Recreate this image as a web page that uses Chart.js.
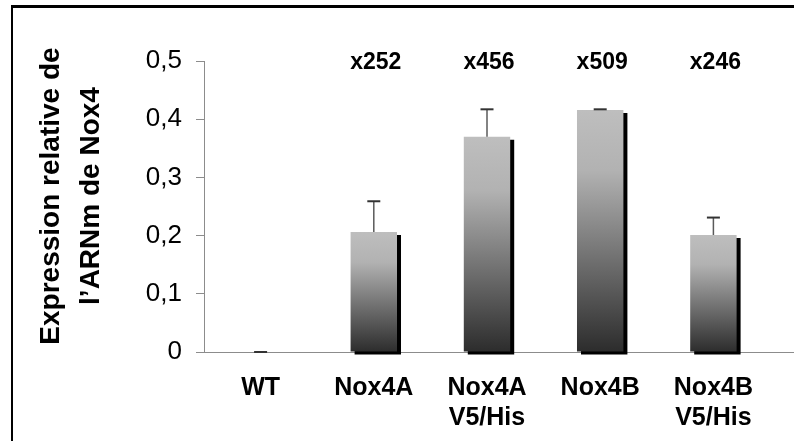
<!DOCTYPE html>
<html>
<head>
<meta charset="utf-8">
<script src="https://cdn.jsdelivr.net/npm/chart.js@4.4.0/dist/chart.umd.min.js"></script>
<style>
    html, body { margin: 0; padding: 0; background: #fff; overflow: hidden; }
    #wrap { position: relative; width: 794px; height: 441px; }
    #wrap canvas { position: absolute; left: 0; top: 0; }
    #frame {
        position: absolute; left: 11px; top: 5px; width: 820px; height: 480px;
        border-top: 3px solid #000; border-left: 2px solid #000; pointer-events: none;
    }
</style>
</head>
<body>
<div id="wrap">
    <canvas id="chart" width="794" height="441"></canvas>
    <div id="frame"></div>
</div>
<script>
// chart data
const categories = ['WT', 'Nox4A', ['Nox4A', 'V5/His'], 'Nox4B', ['Nox4B', 'V5/His']];
const expression = [0, 0.206, 0.370, 0.416, 0.201];
const errors = [0, 0.053, 0.047, 0.001, 0.030];
const foldLabels = ['', 'x252', 'x456', 'x509', 'x246'];
const yTicks = [0, 0.1, 0.2, 0.3, 0.4, 0.5];
const yTitle = ['Expression relative de', 'l\u2019ARNm de Nox4'];

const FONT = "'Liberation Sans', Arial, sans-serif";
const axisColor = '#8c8c8c';

// vertical grey gradient, light on top of each bar, dark at the base
function barGradient(ctx) {
    const chart = ctx.chart;
    if (!chart.chartArea) return '#888';
    const y = chart.scales.y;
    const top = y.getPixelForValue(ctx.raw || 0);
    const bottom = y.getPixelForValue(0);
    if (bottom - top < 1) return '#333';
    const g = chart.ctx.createLinearGradient(0, top, 0, bottom);
    g.addColorStop(0, '#bebebe');
    g.addColorStop(0.25, '#b2b2b2');
    g.addColorStop(1, '#2c2c2c');
    return g;
}

// black drop shadow behind the bars
const shadowPlugin = {
    id: 'barShadow',
    beforeDatasetsDraw(chart) {
        const c = chart.ctx;
        c.save();
        c.shadowColor = '#000';
        c.shadowOffsetX = 4;
        c.shadowOffsetY = 3;
        c.shadowBlur = 0;
    },
    afterDatasetsDraw(chart) {
        chart.ctx.restore();
    }
};

// error bars, fold labels, axis title and the axis line running off to the right
const extrasPlugin = {
    id: 'extras',
    afterDraw(chart) {
        const c = chart.ctx;
        const y = chart.scales.y;
        const area = chart.chartArea;
        const meta = chart.getDatasetMeta(0);
        c.save();

        c.strokeStyle = axisColor;
        c.lineWidth = 1;
        c.beginPath();
        c.moveTo(area.right, Math.round(area.bottom) + 0.5);
        c.lineTo(chart.width, Math.round(area.bottom) + 0.5);
        c.stroke();

        meta.data.forEach((bar, i) => {
            const y0 = y.getPixelForValue(expression[i]);
            const y1 = y.getPixelForValue(expression[i] + errors[i]);
            c.strokeStyle = '#5a5a5a';
            c.lineWidth = 1.5;
            c.beginPath();
            c.moveTo(bar.x, y0);
            c.lineTo(bar.x, y1);
            c.stroke();
            c.strokeStyle = '#333';
            c.lineWidth = 2;
            c.beginPath();
            c.moveTo(bar.x - 6.5, y1);
            c.lineTo(bar.x + 6.5, y1);
            c.stroke();

            if (foldLabels[i]) {
                c.fillStyle = '#000';
                c.font = 'bold 23px ' + FONT;
                c.textAlign = 'center';
                c.textBaseline = 'middle';
                c.fillText(foldLabels[i], bar.x + 2, 63);
            }
        });

        // rotated y title, two lines
        c.translate(0, 196);
        c.rotate(-Math.PI / 2);
        c.fillStyle = '#000';
        c.font = 'bold 28px ' + FONT;
        c.textAlign = 'center';
        c.textBaseline = 'middle';
        c.fillText(yTitle[0], 0, 51);
        c.fillText(yTitle[1], 0, 91);
        c.restore();
    }
};

new Chart(document.getElementById('chart'), {
    type: 'bar',
    data: {
        labels: categories,
        datasets: [{
            data: expression,
            backgroundColor: barGradient,
            borderWidth: 0,
            categoryPercentage: 1,
            barPercentage: 0.41,
            clip: false
        }]
    },
    options: {
        responsive: false,
        animation: false,
        layout: { padding: { top: 61, right: 24, left: 0, bottom: 0 } },
        plugins: {
            legend: { display: false },
            tooltip: { enabled: false }
        },
        scales: {
            x: {
                afterFit(s) { s.height = 89; },
                ticks: {
                    font: { family: FONT, size: 25, weight: 'bold' },
                    color: '#000',
                    padding: 21,
                    maxRotation: 0,
                    autoSkip: false
                },
                grid: { display: false, drawTicks: false },
                border: { color: axisColor, width: 1 }
            },
            y: {
                min: 0,
                max: 0.5,
                afterFit(s) { s.width = 204; },
                afterBuildTicks(s) { s.ticks = yTicks.map(v => ({ value: v })); },
                ticks: {
                    callback: v => v === 0 ? '0' : v.toFixed(1).replace('.', ','),
                    font: { family: FONT, size: 26 },
                    color: '#000',
                    padding: 14
                },
                grid: { drawOnChartArea: false, drawTicks: true, tickLength: 8, color: axisColor },
                border: { color: axisColor, width: 1 }
            }
        }
    },
    plugins: [shadowPlugin, extrasPlugin]
});
</script>
</body>
</html>
